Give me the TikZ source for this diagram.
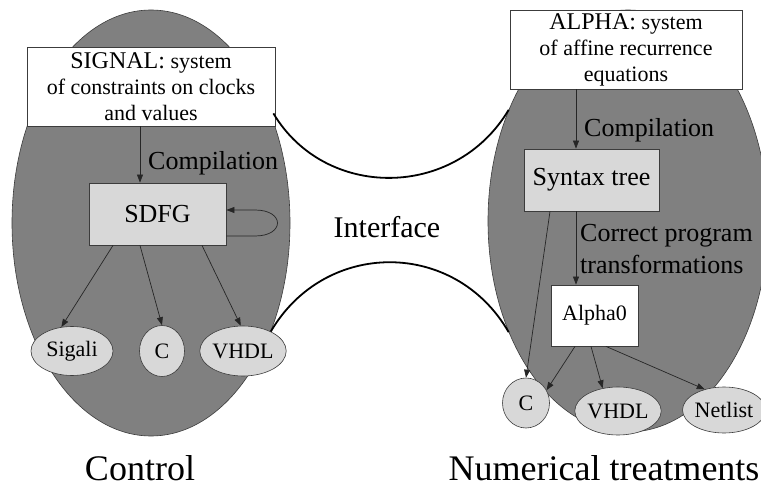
\documentclass[tikz,border=0pt]{standalone}
\usepackage{fontspec}
\setmainfont{Liberation Serif}
\usetikzlibrary{arrows.meta,shapes.geometric}
\definecolor{egg}{RGB}{128,128,128}
\definecolor{pale}{RGB}{216,216,216}
\definecolor{edge}{RGB}{60,60,60}
\tikzset{
  bigell/.style={ellipse, draw=edge, line width=0.6pt, fill=egg, inner sep=0pt},
  srcbox/.style={rectangle, draw=edge, line width=0.8pt, fill=white, align=center, inner sep=0pt, font=\fontsize{22}{26}\selectfont},
  stepbox/.style={rectangle, draw=edge, line width=0.8pt, fill=pale, inner sep=0pt, font=\fontsize{26}{30}\selectfont},
  leaf/.style={ellipse, draw=edge, line width=0.6pt, fill=pale, inner sep=0pt, font=\fontsize{22}{26}\selectfont},
  arr/.style={-{Triangle[length=8pt,width=6pt]}, draw=black!85, line width=0.7pt},
  iface/.style={line width=1.8pt, draw=black},
  lbl/.style={font=\fontsize{26}{32}\selectfont, inner sep=0pt, align=left},
  title/.style={font=\fontsize{36}{40}\selectfont, inner sep=0pt}
}
\begin{document}
\begin{tikzpicture}[x=1pt,y=-1pt]
\useasboundingbox[fill=white] (0,0) rectangle (761,487);

% big ellipses
\node[bigell, minimum width=278pt, minimum height=426pt] (leftEll) at (151,223) {};
\node[bigell, minimum width=280pt, minimum height=422pt] (rightEll) at (628,221) {};

% left side
\node[srcbox, minimum width=248pt, minimum height=79pt] (sig) at (151,86.5)
  {{\fontsize{24}{26}\selectfont SIGNAL:} system\\of constraints on clocks\\and values};
\node[stepbox, minimum width=137pt, minimum height=62pt] (sdfg) at (157.5,214) {SDFG};
\node[leaf, minimum width=82pt, minimum height=49pt] (sigali) at (72,351) {Sigali};
\node[leaf, minimum width=45pt, minimum height=51pt] (cL) at (162,351) {C};
\node[leaf, minimum width=82pt, minimum height=50pt] (vhdlL) at (243,351) {VHDL};

\node[lbl, anchor=west] (compL) at (148,163) {Compilation};

\draw[arr] ([xshift=-11pt]sig.south) -- ([xshift=-17.5pt]sdfg.north);
\coordinate (lp1) at (255,236);
\coordinate (lp2) at (255,210);
\draw[arr] ([yshift=-22pt]sdfg.east) -- (lp1) .. controls +(30,0) and +(30,0) .. (lp2) -- ([yshift=4pt]sdfg.east);
\draw[arr] ([xshift=-44.5pt]sdfg.south) -- (sigali.114);
\draw[arr] ([xshift=-17.5pt]sdfg.south) -- (cL.north);
\draw[arr] ([xshift=44.5pt]sdfg.south) -- (vhdlL.95);

% right side
\node[srcbox, minimum width=232pt, minimum height=79pt] (alpha) at (626,49.5)
  {{\fontsize{24}{26}\selectfont ALPHA:} system\\of affine recurrence\\equations};
\node[stepbox, minimum width=135pt, minimum height=62pt] (syntax) at (591.5,180) {Syntax tree};
\node[srcbox, minimum width=87pt, minimum height=61pt] (alpha0) at (594.5,315.5) {Alpha0};
\node[leaf, minimum width=47pt, minimum height=50pt] (cR) at (526,403) {C};
\node[leaf, minimum width=80pt, minimum height=48pt] (vhdlR) at (618,411) {VHDL};
\node[leaf, minimum width=78pt, minimum height=46pt] (netlist) at (724,410) {Netlist};

\node[lbl, anchor=west] (compR) at (584,130) {Compilation};
\node[lbl, anchor=west] (cpt) at (580,249) {Correct program\\transformations};

\draw[arr] ([xshift=-50pt]alpha.south) -- ([xshift=-15.5pt]syntax.north);
\draw[arr] ([xshift=-15.5pt]syntax.south) -- ([xshift=-18.5pt]alpha0.north);
\draw[arr] ([xshift=-41.5pt]syntax.south) -- (cR.north);
\draw[arr] ([xshift=-19.5pt]alpha0.south) -- (cR.32);
\draw[arr] ([xshift=-3.5pt]alpha0.south) -- (vhdlR.124);
\draw[arr] ([xshift=11.5pt]alpha0.south) -- (netlist.133);

% interface
\draw[iface] ([xshift=-2pt,yshift=13pt]sig.south east) .. controls (325,200) and (455,200) .. (rightEll.137);
\draw[iface] (vhdlL.35) .. controls (325,239) and (455,239) .. (rightEll.223);
\node[font=\fontsize{30}{34}\selectfont, inner sep=0pt] (iface) at (387,227) {Interface};

% titles
\node[title] (ctrl) at (140,468) {Control};
\node[title] (num) at (604,468) {Numerical treatments};
\end{tikzpicture}
\end{document}
